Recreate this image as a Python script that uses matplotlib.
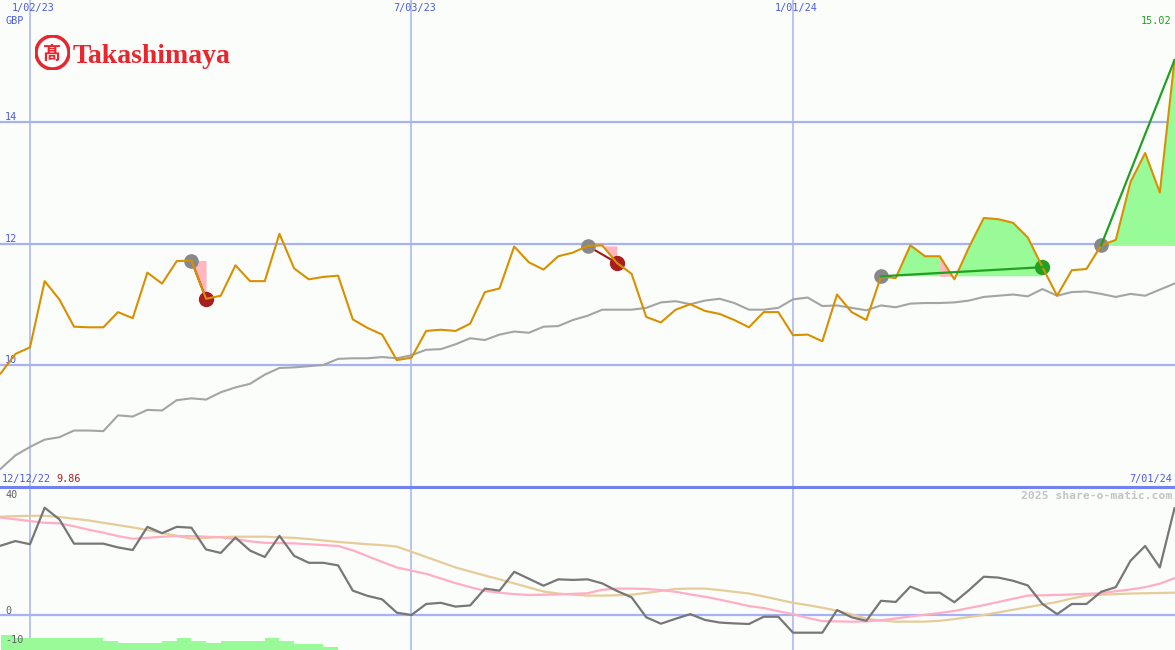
import numpy as np
import pandas as pd
import matplotlib
matplotlib.use('Agg')
import matplotlib.pyplot as plt
import matplotlib.dates as mdates
from matplotlib.patches import Circle

# weekly closes, GBP
weeks = pd.date_range('2022-12-19', periods=81, freq='7D')
price = [9.86, 10.18, 10.29, 11.38, 11.08, 10.63, 10.62, 10.62, 10.87, 10.77,
         11.52, 11.34, 11.71, 11.72, 11.09, 11.14, 11.64, 11.38, 11.38, 12.16,
         11.59, 11.41, 11.45, 11.47, 10.75, 10.61, 10.50, 10.08, 10.12, 10.56,
         10.58, 10.56, 10.68, 11.20, 11.26, 11.95, 11.69, 11.57, 11.79, 11.85,
         11.96, 11.97, 11.68, 11.50, 10.79, 10.70, 10.91, 11.00, 10.89, 10.84,
         10.74, 10.62, 10.87, 10.87, 10.49, 10.50, 10.39, 11.16, 10.87, 10.74,
         11.46, 11.43, 11.97, 11.79, 11.79, 11.41, 11.94, 12.42, 12.40, 12.34,
         12.10, 11.61, 11.14, 11.56, 11.58, 11.97, 12.06, 13.01, 13.49, 12.84,
         15.02]
price_ma = [8.29, 8.51, 8.65, 8.77, 8.81, 8.92, 8.92, 8.91, 9.17, 9.15,
            9.26, 9.25, 9.42, 9.45, 9.43, 9.55, 9.63, 9.69, 9.84, 9.95,
            9.96, 9.98, 10.00, 10.10, 10.11, 10.11, 10.13, 10.11, 10.16, 10.25,
            10.26, 10.34, 10.44, 10.41, 10.50, 10.55, 10.53, 10.63, 10.64, 10.74,
            10.81, 10.91, 10.91, 10.91, 10.94, 11.03, 11.05, 11.00, 11.06, 11.09,
            11.02, 10.91, 10.91, 10.94, 11.08, 11.11, 10.97, 10.98, 10.94, 10.90,
            10.98, 10.95, 11.01, 11.02, 11.02, 11.03, 11.06, 11.12, 11.14, 11.16,
            11.13, 11.25, 11.14, 11.20, 11.21, 11.17, 11.12, 11.17, 11.14, 11.24,
            11.34]

# lower panel
osc = [23.9, 25.5, 24.4, 37.0, 33.0, 24.6, 24.6, 24.6, 23.3, 22.4,
       30.4, 28.2, 30.4, 30.1, 22.6, 21.4, 26.7, 22.2, 20.0, 27.3,
       20.4, 18.0, 18.0, 17.1, 8.4, 6.6, 5.4, 0.8, 0.0, 3.8,
       4.2, 2.9, 3.3, 9.1, 8.4, 14.9, 12.5, 10.1, 12.3, 12.1,
       12.3, 10.9, 8.3, 6.1, -0.8, -3.0, -1.3, 0.3, -1.7, -2.6,
       -2.9, -3.1, -0.6, -0.6, -6.1, -6.1, -6.1, 1.7, -0.8, -2.0,
       4.9, 4.5, 9.8, 7.7, 7.7, 4.4, 8.6, 13.2, 12.9, 11.8,
       10.2, 3.8, 0.3, 3.8, 3.8, 8.0, 9.6, 18.7, 23.8, 16.4,
       36.8]
osc_fast = [33.6, 33.0, 32.4, 31.8, 31.6, 30.6, 29.4, 28.4, 27.2, 26.3,
            26.6, 27.0, 27.2, 27.2, 27.0, 26.8, 26.2, 25.4, 24.9, 24.8,
            24.7, 24.4, 24.1, 23.8, 22.3, 20.3, 18.3, 16.4, 15.3, 14.2,
            12.6, 11.0, 9.6, 8.3, 7.7, 7.2, 6.9, 7.0, 7.1, 7.3,
            7.5, 8.7, 9.1, 9.1, 9.0, 8.6, 8.0, 7.1, 6.3, 5.3,
            4.2, 3.1, 2.4, 1.3, 0.3, -1.0, -2.1, -2.2, -2.3, -2.2,
            -1.8, -1.2, -0.5, 0.1, 0.7, 1.4, 2.4, 3.4, 4.5, 5.6,
            6.7, 6.8, 6.9, 7.1, 7.3, 7.5, 8.2, 8.8, 9.6, 10.8,
            12.7]
osc_slow = [33.9, 34.1, 34.2, 34.2, 33.8, 33.2, 32.6, 31.8, 31.0, 30.2,
            29.3, 28.3, 27.3, 26.3, 26.6, 26.9, 27.0, 27.0, 27.0, 26.8,
            26.6, 26.2, 25.7, 25.2, 24.8, 24.4, 24.1, 23.6, 21.8, 20.0,
            18.2, 16.4, 15.0, 13.6, 12.3, 10.9, 9.5, 8.1, 7.4, 7.0,
            6.7, 6.7, 6.8, 7.0, 7.6, 8.3, 9.0, 9.1, 9.1, 8.6,
            8.0, 7.4, 6.4, 5.3, 4.2, 3.4, 2.5, 1.5, 0.2, -1.3,
            -1.9, -2.3, -2.3, -2.3, -2.0, -1.4, -0.7, 0.0, 0.9, 1.8,
            2.7, 3.6, 4.5, 5.7, 6.7, 7.0, 7.2, 7.4, 7.5, 7.6,
            7.7]
bar_tops = [-6.9, -7.8, -7.8, -7.8, -7.8, -7.8, -7.8, -9.0, -9.8, -9.8,
            -9.8, -9.0, -7.8, -9.0, -9.8, -9.0, -9.0, -9.0, -7.8, -9.0,
            -10.0, -10.0, -11.0]

grid_dates = ['2023-01-02', '2023-07-03', '2024-01-01']
grid_labels = ['1/02/23', '7/03/23', '1/01/24']
price_ticks = [10, 12, 14]
osc_ticks = [40, 0, -10]
# (entry week, exit week)
loss_trades = [(13, 14), (40, 42)]
win_trades = [(60, 71), (75, 80)]
dip_weeks = (64, 65)

x = mdates.date2num(weeks.values)
price = np.array(price)
gx = mdates.date2num(pd.to_datetime(grid_dates).values)

bg = '#fbfdfb'
grid_c = '#a6b2f4'
lab_c = '#4a5ae6'
orange = '#d89000'
mono = 'DejaVu Sans Mono'

fig = plt.figure(figsize=(11.75, 6.5), dpi=100, facecolor=bg)
ax1 = fig.add_axes([0, 163 / 650, 1, 487 / 650])
ax2 = fig.add_axes([0, 0, 1, 163 / 650])
xl = (x[0] - 0.31, x[-1] + 0.24)
for ax in (ax1, ax2):
    ax.set_facecolor(bg)
    ax.set_xlim(xl)
    ax.set_xticks([])
    ax.set_yticks([])
    for s in ax.spines.values():
        s.set_visible(False)
    for g in gx:
        ax.axvline(g, color=grid_c, lw=1.1, zorder=1)
ax1.set_ylim(7.99, 16.01)
ax2.set_ylim(-12.07, 44.14)

# upper panel
for v in price_ticks:
    ax1.axhline(v, color=grid_c, lw=1.6, zorder=1)
    ax1.annotate(str(v), xy=(0, v), xycoords=('axes fraction', 'data'), xytext=(5, 2),
                 textcoords='offset pixels', color=lab_c, fontsize=7.3, family=mono)

for a, b in loss_trades:
    lvl = price[a]
    ax1.fill_between(x[a:b + 1], lvl, price[a:b + 1], where=price[a:b + 1] <= lvl + 0.02,
                     interpolate=True, color='#ffb6c1', lw=0, zorder=2)
    ax1.plot([x[a], x[b]], [price[a], price[b]], color='#9e1a1a', lw=1.5, zorder=3)
    ax1.plot(x[a], price[a], 'o', color='#888888', ms=9.5, zorder=3)
    ax1.plot(x[b], price[b], 'o', color='#a81e1e', ms=10, zorder=3)

for a, b in win_trades:
    lvl = price[a]
    ax1.fill_between(x[a:b + 1], lvl, price[a:b + 1], where=price[a:b + 1] >= lvl,
                     interpolate=True, color='#98fb98', lw=0, zorder=2)
    ax1.plot([x[a], x[b]], [price[a], price[b]], color='#22a022', lw=1.6, zorder=5)
    ax1.plot(x[a], price[a], 'o', color='#888888', ms=9.5, zorder=3)
lvl = price[win_trades[0][0]]
d0, d1 = dip_weeks
ax1.fill_between(x[d0:d1 + 1], lvl, price[d0:d1 + 1], color='#ffb6c1', lw=0, zorder=2)
ax1.plot(x[win_trades[0][1]], price[win_trades[0][1]], 'o', color='#22a022', ms=10, zorder=3)

ax1.plot(x, price_ma, color='#a4a4a4', lw=1.5, zorder=3)
ax1.plot(x, price, color=orange, lw=1.5, zorder=4)

ax1.annotate('GBP', xy=(0, 1), xycoords='axes fraction', xytext=(5, -21),
             textcoords='offset pixels', va='center', color=lab_c, fontsize=7.3, family=mono)
for g, t in zip(gx, grid_labels):
    ax1.annotate(t, xy=(g, 1), xycoords=('data', 'axes fraction'), xytext=(3, -8),
                 textcoords='offset pixels', ha='center', va='center', color=lab_c,
                 fontsize=7.3, family=mono)
ax1.annotate('%0.2f' % price[-1], xy=(1, 1), xycoords='axes fraction', xytext=(-4, -21),
             textcoords='offset pixels', ha='right', va='center', color='#22a022',
             fontsize=7.3, family=mono)
ax1.annotate('12/12/22', xy=(0, 0), xycoords='axes fraction', xytext=(2, 8),
             textcoords='offset pixels', va='center', color=lab_c, fontsize=7.3, family=mono)
ax1.annotate('%0.2f' % price[0], xy=(0, 0), xycoords='axes fraction', xytext=(56, 8),
             textcoords='offset pixels', va='center', color='#a81e1e', fontsize=7.3, family=mono)
ax1.annotate('7/01/24', xy=(1, 0), xycoords='axes fraction', xytext=(-3, 8),
             textcoords='offset pixels', ha='right', va='center', color=lab_c,
             fontsize=7.3, family=mono)

# lower panel
ax2.axhline(0, color=grid_c, lw=1.6, zorder=1)
ax2.plot([0, 1], [1, 1], transform=ax2.transAxes, color='#7282f0', lw=2.2, clip_on=False, zorder=6)
ax2.bar(x[:len(bar_tops)], np.array(bar_tops) + 12.07, bottom=-12.07, width=7, align='edge',
        color='#98fb98', lw=0, zorder=2)
ax2.plot(x, osc_slow, color='#e6cc9a', lw=1.6, zorder=3)
ax2.plot(x, osc_fast, color='#ffaec4', lw=1.6, zorder=3)
ax2.plot(x, osc, color='#777777', lw=1.6, zorder=4)
for v in osc_ticks:
    ax2.annotate(str(v), xy=(0, v), xycoords=('axes fraction', 'data'), xytext=(5, 1),
                 textcoords='offset pixels', color='#606060', fontsize=7.3, family=mono, zorder=7)
ax2.annotate('2025 share-o-matic.com', xy=(1, 1), xycoords='axes fraction', xytext=(-3, -9),
             textcoords='offset pixels', ha='right', va='center', color='#c4c4c4',
             fontsize=8.2, family=mono, fontweight='bold')

# logo
lax = fig.add_axes([35 / 1175, (650 - 70) / 650, 35 / 1175, 35 / 650])
lax.set_xlim(0, 1)
lax.set_ylim(0, 1)
lax.axis('off')
lax.add_patch(Circle((0.5, 0.5), 0.5, color='#e8262e'))
lax.add_patch(Circle((0.5, 0.5), 0.4, color='white'))
lax.text(0.5, 0.47, '髙', ha='center', va='center', color='#e8262e', fontsize=13,
         fontweight='bold', family=['Noto Sans CJK JP', 'DejaVu Sans'])
fig.text(73 / 1175, 1 - 63 / 650, 'Takashimaya', color='#e8262e', fontsize=20,
         fontweight='bold', family='Liberation Serif', va='baseline')

fig.savefig('out.png', dpi=100, facecolor=bg)
